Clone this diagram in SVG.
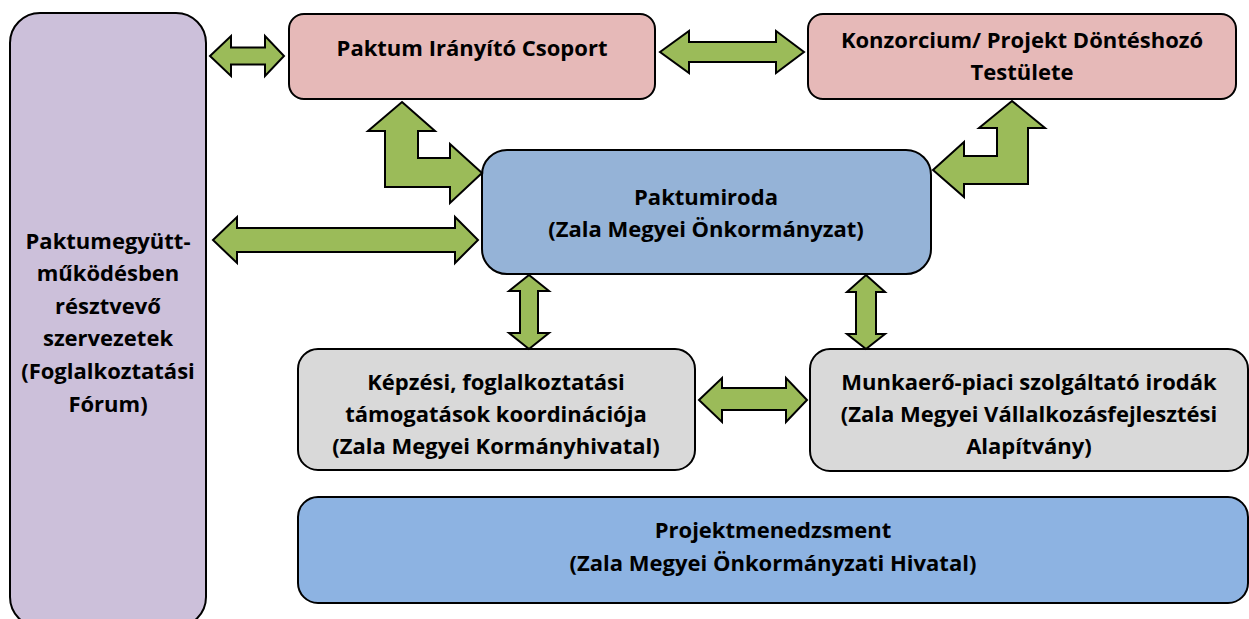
<svg xmlns="http://www.w3.org/2000/svg" width="1249" height="619" viewBox="0 0 1249 619">
<style>
.box{stroke:#000;stroke-width:2}
.arr{fill:#9BBB59;stroke:#000;stroke-width:2;stroke-linejoin:miter}
text{font-family:"Open Sans","Liberation Sans",sans-serif;font-weight:bold;font-size:22px;fill:#000;text-anchor:middle}
</style>
<rect width="1249" height="619" fill="#fff"/>
<g id="forum">
<rect class="box" x="10" y="13" width="196" height="614" rx="30" fill="#CCC0DA"/>
<text x="108" y="249">Paktumegyütt-</text>
<text x="108" y="281">működésben</text>
<text x="108" y="314">résztvevő</text>
<text x="108" y="346">szervezetek</text>
<text x="108" y="379">(Foglalkoztatási</text>
<text x="108" y="412">Fórum)</text>
</g>
<g id="pic">
<rect class="box" x="289" y="14" width="366" height="85" rx="15" fill="#E6B9B8"/>
<text x="472" y="56">Paktum Irányító Csoport</text>
</g>
<g id="konzorcium">
<rect class="box" x="808" y="14" width="428" height="85" rx="15" fill="#E6B9B8"/>
<text x="1022" y="48">Konzorcium/ Projekt Döntéshozó</text>
<text x="1022" y="80">Testülete</text>
</g>
<g id="paktumiroda">
<rect class="box" x="482" y="150" width="449" height="124" rx="25" fill="#95B3D7"/>
<text x="706" y="205">Paktumiroda</text>
<text x="706" y="237">(Zala Megyei Önkormányzat)</text>
</g>
<g id="kepzesi">
<rect class="box" x="298" y="349" width="397" height="121" rx="20" fill="#D9D9D9"/>
<text x="496" y="390">Képzési, foglalkoztatási</text>
<text x="496" y="422">támogatások koordinációja</text>
<text x="496" y="454">(Zala Megyei Kormányhivatal)</text>
</g>
<g id="munkaero">
<rect class="box" x="810" y="349" width="438" height="122" rx="20" fill="#D9D9D9"/>
<text x="1029" y="390">Munkaerő-piaci szolgáltató irodák</text>
<text x="1029" y="422">(Zala Megyei Vállalkozásfejlesztési</text>
<text x="1029" y="454">Alapítvány)</text>
</g>
<g id="projektmenedzsment">
<rect class="box" x="298" y="497" width="950" height="106" rx="20" fill="#8DB3E2"/>
<text x="773" y="538">Projektmenedzsment</text>
<text x="773" y="571">(Zala Megyei Önkormányzati Hivatal)</text>
</g>
<g id="connectors">
<polygon class="arr" points="210,56 231,36 231,47.5 265,47.5 265,36 284,56 265,76 265,64.5 231,64.5 231,76"/>
<polygon class="arr" points="660,52 689,31 689,42 776,42 776,31 804,52 776,73 776,62 689,62 689,73"/>
<polygon class="arr" points="402,102 435,131 418,131 418,158 450,158 450,144 482,173 450,203 450,187 385,187 385,131 368,131"/>
<polygon class="arr" points="1012,101 1045,128 1028,128 1028,184 964,184 964,197 933,170 964,142 964,156 997,156 997,128 979,128"/>
<polygon class="arr" points="213,240 237,217 237,228 455,228 455,217 478,240 455,263 455,252 237,252 237,263"/>
<polygon class="arr" points="529,275 549,291 538,291 538,333 549,333 529,349 509,333 520,333 520,291 509,291"/>
<polygon class="arr" points="866,275 885,292 876,292 876,334 885,334 866,349 847,334 856,334 856,292 847,292"/>
<polygon class="arr" points="699,400 722,378 722,388 786,388 786,378 807,400 786,422 786,410 722,410 722,422"/>
</g>
</svg>
